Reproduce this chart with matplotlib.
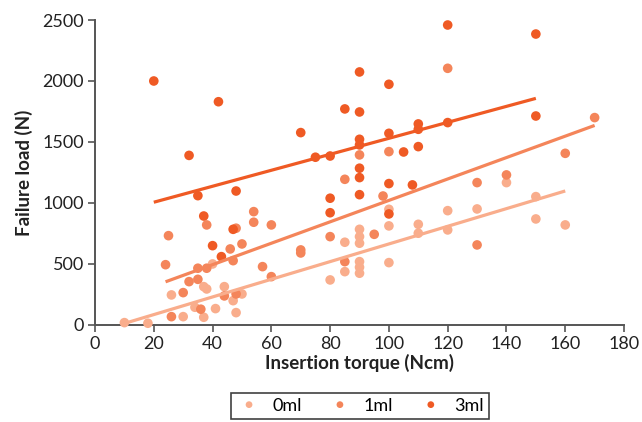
import numpy as np
import matplotlib
matplotlib.use("Agg")
import matplotlib.pyplot as plt

plt.rcParams["font.family"] = ["Lato", "DejaVu Sans"]

# insertion torque (Ncm) / failure load (N)
X_0ML = [10, 18, 26, 30, 34, 37, 38, 37, 41, 40, 44, 47, 48, 50, 80, 85, 85,
         90, 90, 90, 90, 90, 90, 100, 100, 100, 110, 110, 120, 120, 130, 140,
         150, 150, 160]
Y_0ML = [19, 14, 246, 68, 145, 314, 295, 63, 134, 500, 314, 199, 101, 254,
         369, 678, 437, 784, 724, 670, 519, 473, 424, 948, 812, 511, 825, 752,
         937, 779, 951, 1167, 1052, 869, 820]

X_1ML = [24, 25, 26, 30, 32, 35, 35, 36, 38, 38, 44, 46, 47, 48, 48, 50, 54,
         54, 57, 60, 60, 70, 70, 80, 85, 85, 90, 95, 98, 100, 120, 130, 130,
         140, 160, 170]
Y_1ML = [494, 732, 68, 265, 355, 465, 374, 129, 465, 820, 238, 623, 527, 254,
         793, 664, 929, 842, 478, 820, 396, 615, 590, 724, 1194, 519, 1394,
         743, 1057, 1421, 2104, 1167, 656, 1230, 1407, 1700]

X_3ML = [20, 32, 42, 35, 37, 40, 43, 47, 48, 70, 75, 80, 80, 80, 85, 90, 90,
         90, 90, 90, 90, 90, 100, 100, 100, 100, 105, 108, 110, 110, 110, 120,
         120, 150, 150]
Y_3ML = [2000, 1390, 1830, 1060, 893, 650, 560, 784, 1098, 1577, 1375, 1385,
         1039, 920, 1771, 2074, 1746, 1522, 1476, 1285, 1208, 1068, 1973, 1571,
         1159, 910, 1418, 1148, 1648, 1604, 1462, 2459, 1659, 2385, 1713]

# linear trend (slope, intercept) as drawn on the chart
TREND_0ML = (7.24, -60)
TREND_1ML = (8.78, 143)
TREND_3ML = (6.55, 875)

LABELS = ["0ml", "1ml", "3ml"]
COLORS = ["#F9AD8C", "#F4855A", "#EF5A24"]

fig = plt.figure(figsize=(6.42, 4.22), dpi=100)
ax = fig.add_axes([0.148, 0.23, 0.824, 0.7226])

series = [(X_0ML, Y_0ML, TREND_0ML), (X_1ML, Y_1ML, TREND_1ML),
          (X_3ML, Y_3ML, TREND_3ML)]
for (xs, ys, (m, b)), lab, col in zip(series, LABELS, COLORS):
    ax.scatter(xs, ys, s=48, color=col, edgecolors="none", label=lab,
               zorder=3, clip_on=False)
for (xs, ys, (m, b)), col in zip(series, COLORS):
    xx = np.array([min(xs), max(xs)])
    ax.plot(xx, m * xx + b, color=col, lw=2.3, zorder=4,
            solid_capstyle="butt")

ax.set_xlim(0, 180)
ax.set_ylim(0, 2500)
ax.set_xticks(np.arange(0, 181, 20))
ax.set_yticks(np.arange(0, 2501, 500))
for s in ("top", "right"):
    ax.spines[s].set_visible(False)
for s in ("left", "bottom"):
    ax.spines[s].set_color("#555555")
    ax.spines[s].set_linewidth(1.4)
ax.tick_params(direction="out", length=5, width=1.2, color="#555555",
               labelsize=13, labelcolor="#222222", pad=3)
ax.set_xlabel("Insertion torque (Ncm)", fontsize=13.5, fontweight="bold",
              color="#222222", labelpad=1)
ax.set_ylabel("Failure load (N)", fontsize=13.5, fontweight="bold",
              color="#222222", labelpad=7)

leg = fig.legend(loc="center", bbox_to_anchor=(0.561, 0.038), ncol=3,
                 frameon=True, fancybox=False, fontsize=13,
                 markerscale=0.7, handlelength=1.4, handletextpad=0.6,
                 columnspacing=1.4, borderpad=0.3, scatteryoffsets=[0.5])
leg.get_frame().set_edgecolor("#111111")
leg.get_frame().set_linewidth(1.2)

fig.savefig("out.png", dpi=100)
